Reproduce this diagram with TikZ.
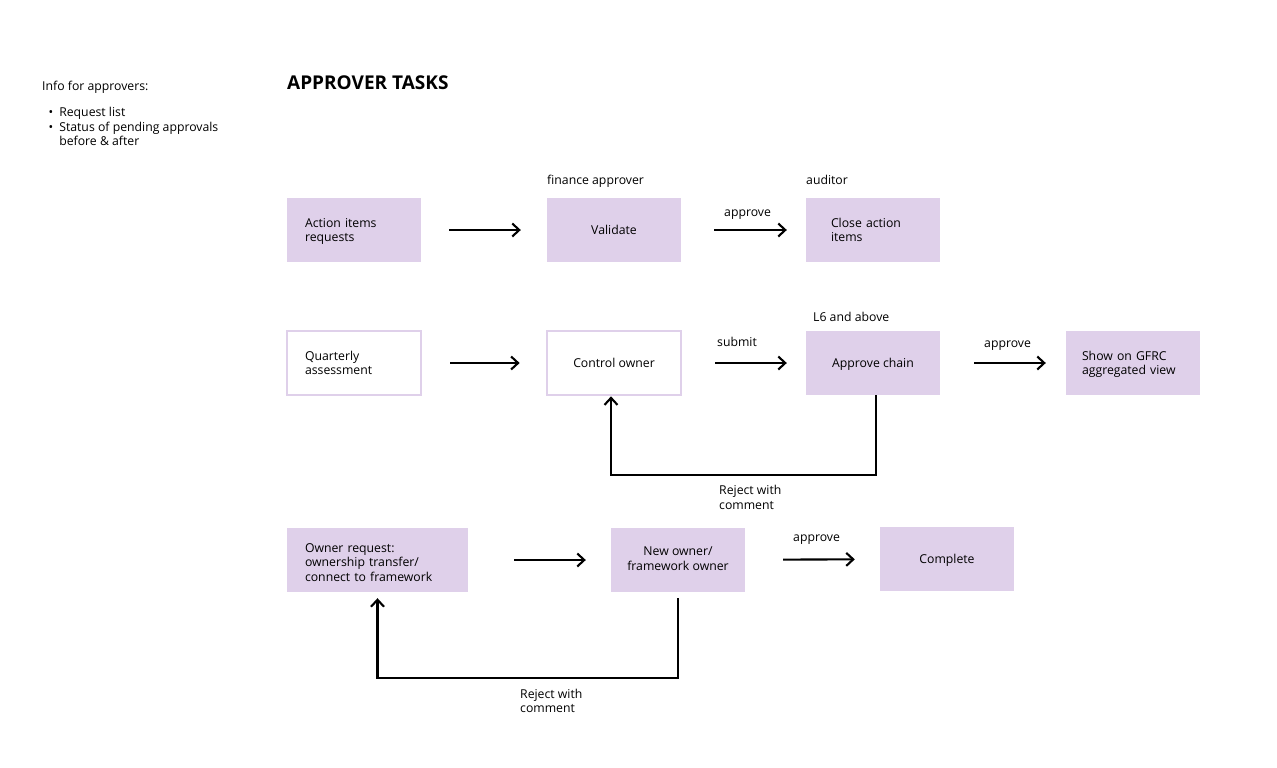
\documentclass[tikz,border=0pt]{standalone}
\usepackage{fontspec}
\setmainfont{Open Sans}
\usetikzlibrary{arrows.meta}
\definecolor{lilac}{HTML}{DFD0EA}

\begin{document}
\begin{tikzpicture}[
        x = 1pt, y = -1pt, % pixel grid, y going down
        > = {Straight Barb[length=7pt, width=13pt]}, % open arrow head
        font = \fontsize{12.25}{14.5}\selectfont,
        struts/.style = {execute at begin node={\rule{0pt}{11.6pt}}, execute at end node={\rule[-3pt]{0pt}{3pt}}},
        task/.style = {rectangle, fill=lilac, minimum width=134pt, minimum height=64pt, inner sep=0pt, align=center, struts},
        hollow/.style = {task, fill=white, draw=lilac, line width=2.7pt},
        lefty/.style 2 args = {text width=#1, align=left, inner xsep=#2},
        flow/.style = {->, line width=2.1pt},
        tag/.style = {anchor=base west, inner sep=0pt},
        tags/.style = {anchor=west, inner sep=0pt, align=left, struts},
    ]
        \useasboundingbox (0,0) rectangle (1277,768);

        % side notes and title
        \node[tag] (info) at (42,90) {Info for approvers:};
        \node[tags] (list) at (48.5,128.2) {\textbullet\hspace{6pt}Request list\\
            \textbullet\hspace{6pt}Status of pending approvals\\
            \hphantom{\textbullet}\hspace{6pt}before \& after};
        \node[tag, font=\fontsize{19}{21}\selectfont\bfseries] (title) at (287,89.5) {APPROVER TASKS};

        % row 1
        \node[task, lefty={98pt}{18pt}] (req) at (354,230) {Action items\\requests};
        \node[task] (val) at (614,230) {Validate};
        \node[task, lefty={84pt}{25pt}] (clo) at (873,230) {Close action\\items};
        \node[tag] (fin) at (547,184.5) {finance approver};
        \node[tag] (aud) at (806,184.5) {auditor};
        \node[tag] (ap1) at (724,216.5) {approve};
        \draw[flow, shorten <=28pt, shorten >=26pt] (req) -- (val);
        \draw[flow, shorten <=33pt, shorten >=19pt] (val) -- (clo);

        % row 2
        \node[hollow, lefty={98pt}{18pt}] (qa) at (354,363) {Quarterly\\assessment};
        \node[hollow] (ctrl) at (614,363) {Control owner};
        \node[task] (chain) at (873,363) {Approve chain};
        \node[task, lefty={102pt}{16pt}] (gfrc) at (1133,363) {Show on GFRC\\aggregated view};
        \node[tag] (l6) at (813,321.5) {L6 and above};
        \node[tag] (sub) at (717,346.5) {submit};
        \node[tag] (ap2) at (984,347.5) {approve};
        \node[tags] (rej1) at (719,498.7) {Reject with\\comment};
        \draw[flow, shorten <=28pt, shorten >=26pt] (qa) -- (ctrl);
        \draw[flow, shorten <=33pt, shorten >=19pt] (ctrl) -- (chain);
        \draw[flow, shorten <=34pt, shorten >=20pt] (chain) -- (gfrc);
        \draw[flow] ([xshift=3pt]chain.south) -- ++(0,80) -| ([xshift=-3pt]ctrl.south);

        % row 3
        \node[task, minimum width=181pt, lefty={145pt}{18pt}, execute at begin node={\rule{0pt}{16pt}}] (own) at (377.5,560) {Owner request:\\ownership transfer/\\connect to framework};
        \node[task] (new) at (678,560) {New owner/\\framework owner};
        \node[task] (done) at (947,559) {Complete};
        \node[tag] (ap3) at (793,541.5) {approve};
        \node[tags] (rej2) at (520,702.2) {Reject with\\comment};
        \draw[flow, shorten <=46pt, shorten >=25pt] (own) -- (new);
        \draw[flow, shorten <=38pt, shorten >=25pt] (new) -- (done);
        \draw[flow, shorten <=6pt, shorten >=6pt] (new.south) -- ++(0,86) -| (own.south);
\end{tikzpicture}
\end{document}
